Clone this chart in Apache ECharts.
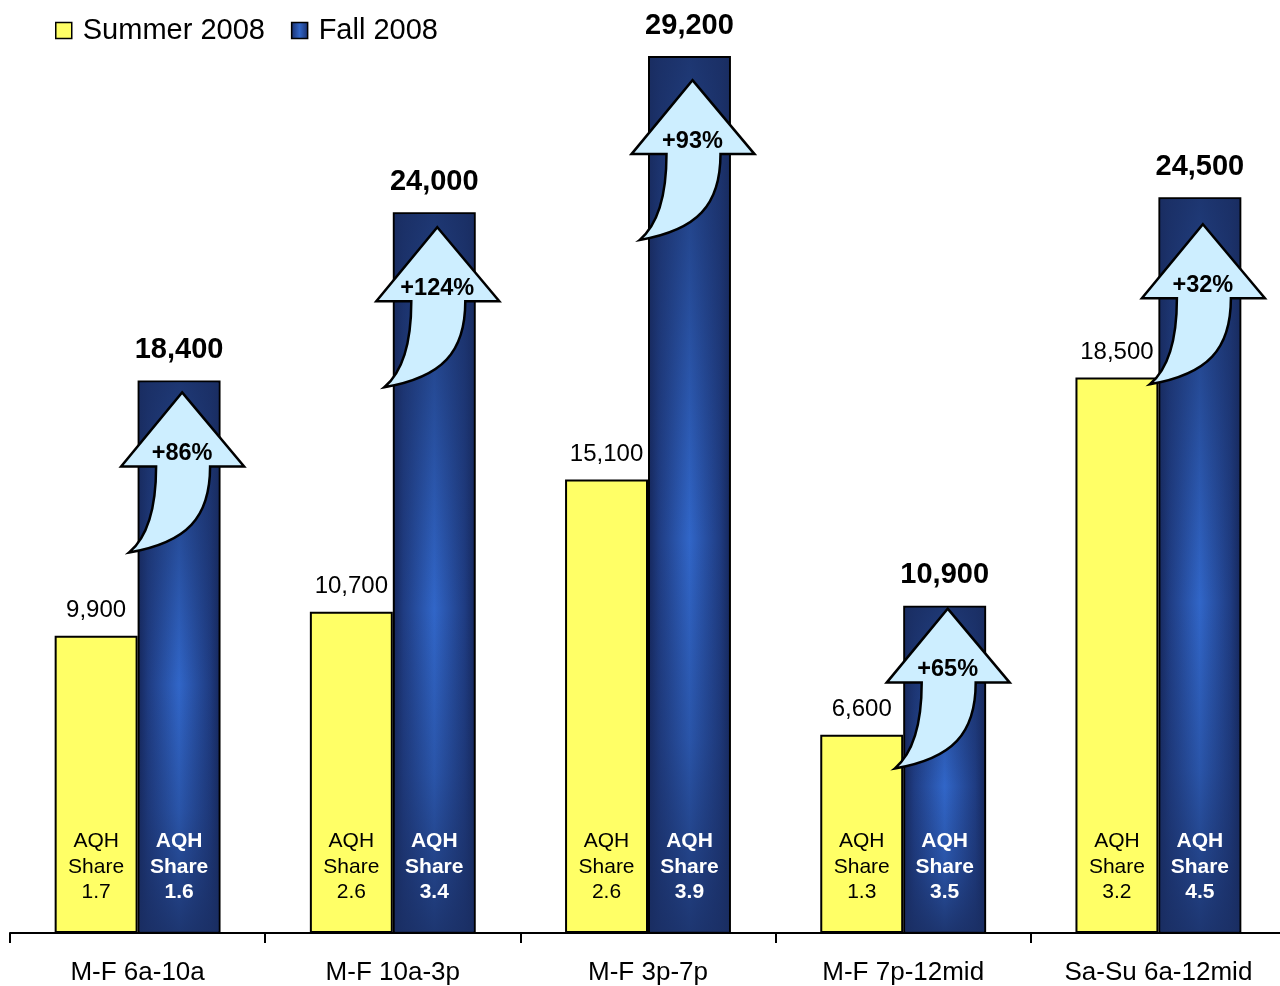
<!DOCTYPE html>
<html><head><meta charset="utf-8">
<script src="https://cdn.jsdelivr.net/npm/echarts@6/dist/echarts.min.js"></script>
<style>html,body{margin:0;padding:0;background:#fff;overflow:hidden}#c{width:1286px;height:986px}</style>
</head><body><div id="c"></div>
<script>
// ---- data ----
const categories = ['M-F 6a-10a', 'M-F 10a-3p', 'M-F 3p-7p', 'M-F 7p-12mid', 'Sa-Su 6a-12mid'];
const summer2008 = [9900, 10700, 15100, 6600, 18500];
const fall2008 = [18400, 24000, 29200, 10900, 24500];
const summerShare = [1.7, 2.6, 2.6, 1.3, 3.2];
const fallShare = [1.6, 3.4, 3.9, 3.5, 4.5];
// where each growth arrow's tip sits, in audience units
const arrowTip = [18000, 23500, 28400, 10800, 23600];
const seriesNames = ['Summer 2008', 'Fall 2008'];

// ---- rendering ----
const FONT = '"Liberation Sans", Arial, Helvetica, sans-serif';
const BAR_RATIO = 0.325;
const fmt = v => v.toLocaleString('en-US');

const blueFill = new echarts.graphic.LinearGradient(0, 0, 1, 0, [
  { offset: 0, color: '#15265a' },
  { offset: 0.13, color: '#1f3c82' },
  { offset: 0.5, color: '#3166c8' },
  { offset: 0.87, color: '#1f3c82' },
  { offset: 1, color: '#15265a' }
]);

const chart = echarts.init(document.getElementById('c'), null, { renderer: 'canvas' });

const annotData = categories.map((c, i) => [i, summer2008[i], fall2008[i], arrowTip[i], summerShare[i], fallShare[i]]);

function renderAnnot(params, api) {
  const i = api.value(0);
  const base = api.coord([i, 0]);
  const band = api.size([1, 0])[0];
  const bw = band * BAR_RATIO;
  const yCx = base[0] - bw / 2;
  const bCx = base[0] + bw / 2;
  const summer = api.value(1), fall = api.value(2);
  const fallTop = api.coord([i, fall])[1];
  const tipY = api.coord([i, api.value(3)])[1];
  const tipX = bCx + 3;
  const pct = '+' + Math.round((fall / summer - 1) * 100) + '%';
  const P = (dx, dy) => (tipX + dx).toFixed(1) + ' ' + (tipY + dy).toFixed(1);
  const path = 'M' + P(0, 0) + ' L' + P(62, 74) + ' L' + P(28, 74) +
    ' C' + P(28, 125) + ' ' + P(5, 150) + ' ' + P(-53, 160) +
    ' C' + P(-35, 145) + ' ' + P(-26, 115) + ' ' + P(-26, 74) +
    ' L' + P(-61, 74) + ' Z';
  return {
    type: 'group',
    children: [
      {
        type: 'rect', silent: true,
        shape: { x: bCx - bw / 2 + 2, y: fallTop + 2, width: bw - 4, height: base[1] - fallTop - 3 },
        style: {
          fill: new echarts.graphic.LinearGradient(0, 0, 0, 1, [
            { offset: 0, color: 'rgba(26,46,98,0.85)' },
            { offset: 0.3, color: 'rgba(26,46,98,0.4)' },
            { offset: 0.55, color: 'rgba(26,46,98,0)' },
            { offset: 0.78, color: 'rgba(26,46,98,0.3)' },
            { offset: 1, color: 'rgba(26,46,98,0.85)' }
          ])
        }
      },
      {
        type: 'text', silent: true, x: yCx, y: base[1] - 66,
        style: {
          text: 'AQH\nShare\n' + api.value(4).toFixed(1), fill: '#000',
          fontSize: 21, fontFamily: FONT, lineHeight: 25.5, align: 'center', verticalAlign: 'middle'
        }
      },
      {
        type: 'text', silent: true, x: bCx, y: base[1] - 66,
        style: {
          text: 'AQH\nShare\n' + api.value(5).toFixed(1), fill: '#fff', fontWeight: 'bold',
          fontSize: 21, fontFamily: FONT, lineHeight: 25.5, align: 'center', verticalAlign: 'middle'
        }
      },
      {
        type: 'path', silent: true,
        shape: { pathData: path },
        style: { fill: '#cdeeff', stroke: '#000', lineWidth: 2.5, lineJoin: 'miter' }
      },
      {
        type: 'text', silent: true, x: tipX, y: tipY + 61,
        style: {
          text: pct, fill: '#000', fontWeight: 'bold', fontSize: 23.5, fontFamily: FONT,
          align: 'center', verticalAlign: 'middle'
        }
      }
    ]
  };
}

chart.setOption({
  animation: false,
  backgroundColor: '#fff',
  textStyle: { fontFamily: FONT },
  grid: { left: 10, right: 0, top: 32, bottom: 53, containLabel: false },
  legend: {
    left: 50, top: 11, icon: 'rect', itemWidth: 16, itemHeight: 16, itemGap: 26,
    data: seriesNames,
    itemStyle: { borderColor: '#000', borderWidth: 1.5 },
    textStyle: { fontSize: 29, color: '#000', fontFamily: FONT, padding: [0, 0, 0, 6] }
  },
  xAxis: {
    type: 'category', data: categories, boundaryGap: true,
    axisLine: { lineStyle: { color: '#000', width: 2 } },
    axisTick: { show: true, length: 10, lineStyle: { color: '#000', width: 2 } },
    axisLabel: { fontSize: 26, color: '#000', margin: 27, fontFamily: FONT, interval: 0 }
  },
  yAxis: { type: 'value', min: 0, max: 30000, show: false, splitLine: { show: false } },
  series: [
    {
      name: seriesNames[0], type: 'bar', data: summer2008,
      barWidth: (BAR_RATIO * 100) + '%', barGap: '0%',
      itemStyle: { color: '#ffff66', borderColor: '#000', borderWidth: 2 },
      label: {
        show: true, position: 'top', distance: 13, fontSize: 24, lineHeight: 24,
        color: '#000', fontFamily: FONT, formatter: p => fmt(p.value)
      }
    },
    {
      name: seriesNames[1], type: 'bar', data: fall2008,
      barWidth: (BAR_RATIO * 100) + '%', barGap: '0%',
      itemStyle: { color: blueFill, borderColor: '#000', borderWidth: 2 },
      label: {
        show: true, position: 'top', distance: 16, fontSize: 29, lineHeight: 29, fontWeight: 'bold',
        color: '#000', fontFamily: FONT, formatter: p => fmt(p.value)
      }
    },
    {
      name: 'annotations', type: 'custom', z: 3, clip: false, silent: true,
      data: annotData, encode: { x: 0, y: 2 },
      renderItem: renderAnnot
    }
  ]
});
</script>
</body></html>
